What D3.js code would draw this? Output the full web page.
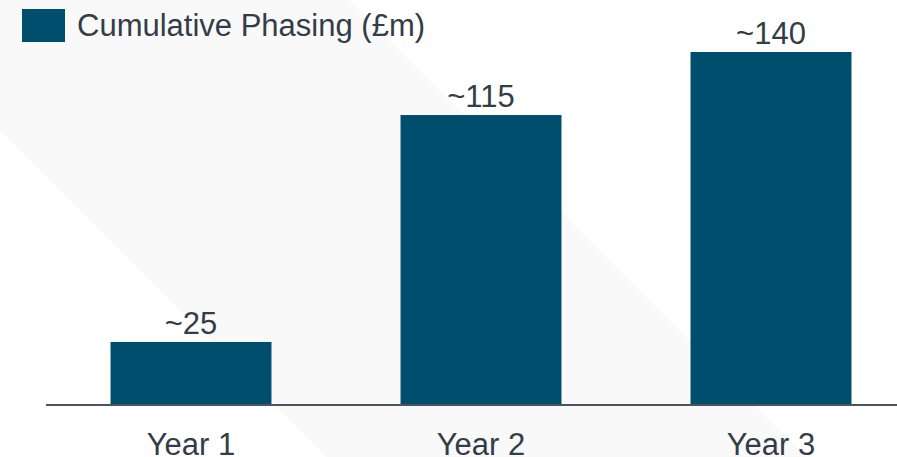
<!DOCTYPE html>
<html>
<head>
<meta charset="utf-8">
<script src="https://cdn.jsdelivr.net/npm/d3@7"></script>
<style>
  html, body { margin: 0; padding: 0; background: #ffffff; }
  svg { display: block; }
</style>
</head>
<body>
<svg id="chart" width="897" height="457"></svg>
<script>
const categories = ["Year 1", "Year 2", "Year 3"];
const values = [25, 115, 140];
const valueLabels = ["~25", "~115", "~140"];
const seriesName = "Cumulative Phasing (£m)";

const W = 897, H = 457;
const svg = d3.select("#chart");
const barColor = "#004e6e";
const textColor = "#333d47";
const font = "'Liberation Sans', Arial, sans-serif";
const fs = 31;

// faint diagonal background band
svg.append("polygon")
  .attr("points", "0,0 350,0 807,457 327,457 0,130")
  .attr("fill", "#f9f9fa");

const x = d3.scaleBand().domain(categories).range([46, 916]).paddingInner(0.445).paddingOuter(0.2225);
const y = d3.scaleLinear().domain([0, 140]).range([405, 52]);

svg.selectAll("rect.bar").data(values).enter().append("rect")
  .attr("class", "bar")
  .attr("x", (d, i) => x(categories[i]))
  .attr("y", d => y(d))
  .attr("width", x.bandwidth())
  .attr("height", d => y(0) - y(d))
  .attr("fill", barColor);

svg.selectAll("text.val").data(values).enter().append("text")
  .attr("class", "val")
  .attr("x", (d, i) => x(categories[i]) + x.bandwidth() / 2)
  .attr("y", d => y(d) - 8)
  .attr("text-anchor", "middle")
  .attr("font-family", font)
  .attr("font-size", fs)
  .attr("fill", textColor)
  .text((d, i) => valueLabels[i]);

// x axis
const xAxis = d3.axisBottom(x).tickSize(0).tickPadding(0);
const gx = svg.append("g").attr("transform", `translate(0,${y(0)})`).call(xAxis);
gx.select(".domain").remove();
gx.append("line").attr("x1", 46).attr("x2", W).attr("y1", 0).attr("y2", 0)
  .attr("stroke", "#4a5560").attr("stroke-width", 2);
gx.selectAll(".tick text")
  .attr("font-family", font)
  .attr("font-size", fs)
  .attr("fill", textColor)
  .attr("y", 50)
  .attr("dy", "0");

// legend
const lg = svg.append("g");
lg.append("rect").attr("x", 22).attr("y", 9).attr("width", 43).attr("height", 33).attr("fill", barColor);
lg.append("text").attr("x", 77).attr("y", 36)
  .attr("font-family", font).attr("font-size", fs).attr("fill", textColor)
  .text(seriesName);
</script>
</body>
</html>
